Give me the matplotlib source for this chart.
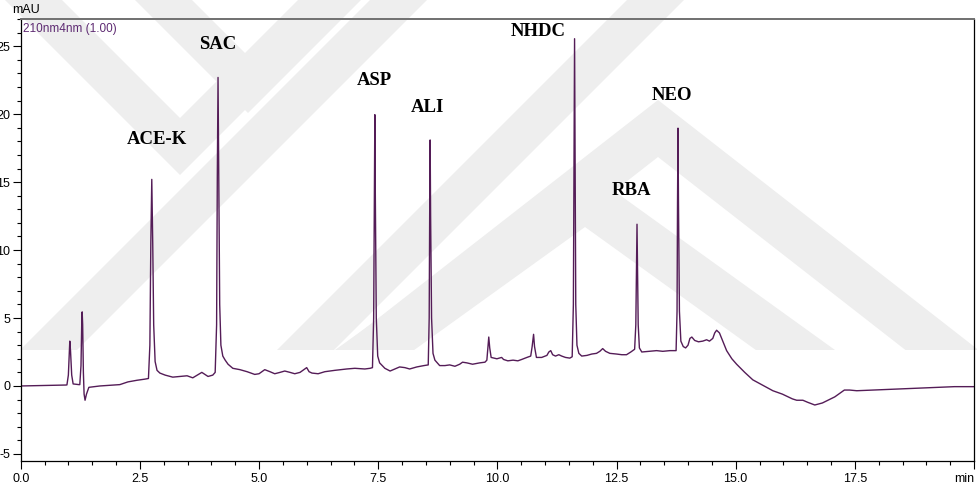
import matplotlib
matplotlib.use("Agg")
import matplotlib.pyplot as plt
from matplotlib.patches import Polygon, Rectangle
from matplotlib.ticker import MultipleLocator

# Chromatogram trace at 210 nm (time in min, absorbance in mAU)
time_min = [
    0.00, 0.68, 0.95,
    0.97, 1.00, 1.02, 1.03, 1.045, 1.07, 1.10,
    1.22, 1.24, 1.265, 1.28, 1.29, 1.30, 1.315, 1.33, 1.35, 1.38, 1.43,
    1.66, 1.87, 2.08, 2.25, 2.44, 2.60,
    2.68, 2.71, 2.73, 2.75, 2.77, 2.79, 2.82, 2.86, 2.92,
    3.03, 3.19, 3.34, 3.49, 3.61, 3.80, 3.93, 4.03,
    4.08, 4.11, 4.125, 4.14, 4.155, 4.175, 4.20, 4.24, 4.29, 4.35,
    4.45, 4.60, 4.75, 4.91, 5.00, 5.12, 5.23, 5.33, 5.44, 5.54, 5.65, 5.75,
    5.86, 6.00, 6.05, 6.11, 6.24, 6.38, 6.59, 6.84, 7.01, 7.22, 7.33,
    7.38, 7.405, 7.42, 7.43, 7.44, 7.46, 7.49, 7.53,
    7.64, 7.75, 7.85, 7.95, 8.06, 8.16, 8.31, 8.46,
    8.55, 8.57, 8.58, 8.59, 8.60, 8.62, 8.65, 8.69,
    8.79, 8.90, 9.00, 9.11, 9.21, 9.27, 9.36, 9.48, 9.63, 9.74,
    9.78, 9.80, 9.82, 9.84, 9.87,
    9.99, 10.09, 10.13, 10.22, 10.33, 10.43, 10.51, 10.62,
    10.70, 10.73, 10.76, 10.78, 10.82,
    10.93, 11.04, 11.08, 11.12, 11.16, 11.22, 11.29, 11.35, 11.43, 11.52,
    11.57, 11.595, 11.61, 11.62, 11.63, 11.645, 11.67, 11.71,
    11.77, 11.88, 11.98, 12.08, 12.15, 12.21, 12.27, 12.36, 12.50, 12.61,
    12.71, 12.80,
    12.88, 12.905, 12.92, 12.93, 12.94, 12.955, 12.98, 13.03,
    13.19, 13.34, 13.47, 13.62,
    13.75, 13.77, 13.78, 13.79, 13.80, 13.82, 13.85, 13.90,
    13.95, 14.00, 14.04, 14.08, 14.14, 14.22, 14.31, 14.39, 14.45, 14.52,
    14.56, 14.60, 14.66, 14.73, 14.81, 14.92, 15.02, 15.19, 15.36, 15.57,
    15.78, 15.98, 16.19, 16.28, 16.41, 16.51, 16.66, 16.82, 17.08, 17.28,
    17.39, 17.54, 18.02, 18.44, 18.86, 19.28, 19.59, 20.00,
]
signal_mau = [
    0.00, 0.05, 0.07,
    0.08, 0.80, 2.60, 3.30, 2.60, 0.80, 0.15,
    0.10, 0.10, 1.50, 4.50, 5.45, 4.50, 1.00, -0.60, -1.05, -0.60, -0.10,
    0.00, 0.05, 0.10, 0.30, 0.42, 0.50,
    0.55, 3.00, 10.50, 15.20, 10.50, 4.50, 1.80, 1.15, 0.95,
    0.80, 0.65, 0.70, 0.75, 0.60, 1.00, 0.70, 0.80,
    1.00, 4.50, 15.50, 22.70, 15.50, 6.00, 3.00, 2.20, 1.90, 1.60,
    1.30, 1.20, 1.05, 0.85, 0.90, 1.20, 1.05, 0.90, 1.00, 1.10, 1.00, 0.90,
    1.00, 1.35, 1.05, 0.95, 0.90, 1.05, 1.15, 1.25, 1.30, 1.25, 1.30,
    1.35, 5.00, 14.00, 19.96, 14.00, 5.00, 2.20, 1.70,
    1.30, 1.10, 1.25, 1.40, 1.35, 1.25, 1.40, 1.50,
    1.55, 5.00, 12.50, 18.10, 12.50, 5.00, 2.40, 1.90,
    1.50, 1.50, 1.55, 1.45, 1.60, 1.75, 1.70, 1.60, 1.70, 1.75,
    1.90, 2.80, 3.60, 2.80, 2.10,
    2.00, 2.10, 1.95, 1.85, 1.90, 1.85, 1.95, 2.10,
    2.20, 2.90, 3.80, 2.90, 2.10,
    2.10, 2.25, 2.50, 2.60, 2.30, 2.20, 2.30, 2.20, 2.10, 2.05,
    2.15, 6.00, 18.00, 25.55, 18.00, 6.00, 3.00, 2.40,
    2.20, 2.25, 2.35, 2.40, 2.55, 2.75, 2.55, 2.40, 2.35, 2.30,
    2.30, 2.50,
    2.70, 4.50, 9.00, 11.90, 9.00, 4.50, 2.80, 2.50,
    2.55, 2.60, 2.55, 2.60,
    2.60, 5.50, 13.50, 18.97, 13.50, 5.50, 3.30, 2.90,
    2.80, 3.00, 3.50, 3.60, 3.35, 3.25, 3.30, 3.40, 3.30, 3.50,
    3.90, 4.10, 3.90, 3.30, 2.60, 2.00, 1.60, 1.00, 0.45, 0.05,
    -0.35, -0.60, -0.95, -1.05, -1.05, -1.20, -1.40, -1.25, -0.80, -0.30,
    -0.30, -0.35, -0.28, -0.22, -0.15, -0.10, -0.05, -0.05,
]

# Compound labels with the retention time and height of their peaks
peak_names = ["ACE-K", "SAC", "ASP", "ALI", "NHDC", "RBA", "NEO"]
peak_times = [2.75, 4.14, 7.43, 8.59, 11.62, 12.93, 13.79]
peak_heights = [15.20, 22.70, 19.96, 18.10, 25.55, 11.90, 18.97]

x_ticks = [0.0, 2.5, 5.0, 7.5, 10.0, 12.5, 15.0, 17.5, 20.0]
y_ticks = [-5, 0, 5, 10, 15, 20, 25]

W, H = 978, 495
fig = plt.figure(figsize=(W / 100, H / 100), dpi=100)
fig.patch.set_facecolor("white")

# Faint chevron watermark behind the plot (pixel coordinates, y downward)
bg = fig.add_axes([0, 0, 1, 1], zorder=0)
bg.set_xlim(0, W)
bg.set_ylim(H, 0)
bg.axis("off")
wm_color = "#eeeeee"
clip = Rectangle((0, 0), W, 350, transform=bg.transData, facecolor="none", edgecolor="none")
bg.add_patch(clip)
band = 57  # vertical thickness of each band


def add_band(pts):
    p = Polygon(pts, closed=True, facecolor=wm_color, edgecolor="none")
    bg.add_patch(p)
    p.set_clip_path(clip)


def v_shape(tx, ty, slope, span=500):
    # tip at the bottom, arms rising to both sides
    add_band([(tx - span, ty - slope * span), (tx, ty), (tx + span, ty - slope * span),
              (tx + span, ty - slope * span - band), (tx, ty - band),
              (tx - span, ty - slope * span - band)])


def lambda_shape(tx, ty, slope, span=500):
    # apex on top, arms falling to both sides
    add_band([(tx - span, ty + slope * span), (tx, ty), (tx + span, ty + slope * span),
              (tx + span, ty + slope * span + band), (tx, ty + band),
              (tx - span, ty + slope * span + band)])


v_shape(180, 175, 1.0)
v_shape(248, 113, 1.0)
lambda_shape(658, 157 - band, 0.78)
lambda_shape(585, 227 - band, 0.72)
for x0 in [20, 277]:
    add_band([(x0, 350), (x0 + 57, 350), (x0 + 57 + 400, -50), (x0 + 400, -50)])

# Main chromatogram axes
left, right, top, bottom = 20.7, 974.0, 19.0, 461.0
ax = fig.add_axes([left / W, 1 - bottom / H, (right - left) / W, (bottom - top) / H], zorder=1)
ax.set_facecolor("none")
ax.plot(time_min, signal_mau, color="#541c57", lw=1.0, solid_joinstyle="round")
ax.set_xlim(0, 20.0)
ax.set_ylim(-5.52, 27.0)

tick_font = {"family": ["Liberation Sans", "DejaVu Sans"], "size": 9}
ax.xaxis.set_minor_locator(MultipleLocator(0.5))
ax.yaxis.set_minor_locator(MultipleLocator(1))
ax.set_xticks(x_ticks)
ax.set_yticks(y_ticks)
xlabels = ax.set_xticklabels([f"{v:.1f}" for v in x_ticks[:-1]] + ["min"], fontdict=tick_font)
xlabels[-1].set_horizontalalignment("right")
ax.set_yticklabels([str(v) for v in y_ticks], fontdict=tick_font)
ax.tick_params(axis="both", which="major", direction="out", length=5.5, width=0.8, color="black", pad=2)
ax.tick_params(axis="both", which="minor", direction="out", length=3, width=0.8, color="black")
ax.tick_params(axis="x", which="major", pad=3)

for side in ("left", "bottom", "right"):
    ax.spines[side].set_color("black")
    ax.spines[side].set_linewidth(0.9)
ax.spines["top"].set_color("#707070")
ax.spines["top"].set_linewidth(1.4)

fig.text(12 / W, 1 - 10 / H, "mAU", fontsize=9, family=["Liberation Sans", "DejaVu Sans"],
         ha="left", va="center")
ax.text(0.05, 26.3, "210nm4nm (1.00)", fontsize=8.5, color="#5e2a72",
        family=["Liberation Sans", "DejaVu Sans"], ha="left", va="center")

# Peak labels placed above their peaks
label_offsets = {"ACE-K": (0.11, 2.9), "SAC": (0.0, 2.4), "ASP": (0.0, 2.55), "ALI": (-0.05, 2.4),
                 "NHDC": (-0.77, 0.55), "RBA": (-0.11, 2.5), "NEO": (-0.13, 2.4)}
for name, t, h in zip(peak_names, peak_times, peak_heights):
    dx, dy = label_offsets[name]
    ax.text(t + dx, h + dy, name, fontsize=13.5, fontweight="bold",
            family=["Liberation Serif", "DejaVu Serif"], ha="center", va="center", color="black")

fig.savefig("out.png", dpi=100, facecolor="white")
